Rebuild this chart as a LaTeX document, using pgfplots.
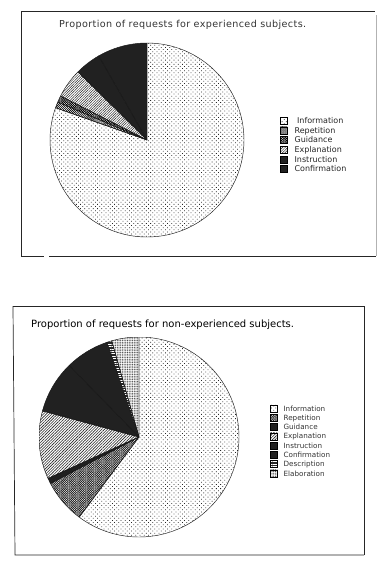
\documentclass[border=0pt]{standalone}
\usepackage{pgfplots}
\pgfplotsset{compat=1.18}
\usepackage{fontspec}
\setmainfont{DejaVu Sans}
\usetikzlibrary{patterns,patterns.meta}

\tikzset{
 pInfo/.style={pattern={Dots[distance=3pt,angle=45,radius=0.55pt]}, pattern color=black!85},
 pRep/.style={pattern={Lines[distance=1.4pt,angle=45,line width=0.6pt]}, pattern color=black},
 pGuid/.style={pattern={Hatch[distance=1.6pt,angle=45,line width=0.6pt]}, pattern color=black},
 pExpl/.style={pattern={Lines[distance=1.8pt,angle=45,line width=0.5pt]}, pattern color=black!85},
 pInst/.style={fill=black!87},
 pConf/.style={fill=black!87},
 bRep/.style={pattern={Hatch[distance=1.6pt,angle=45,line width=0.55pt]}, pattern color=black!85},
 bGuid/.style={fill=black!88},
 bExpl/.style={pattern={Lines[distance=2pt,angle=45,line width=0.6pt]}, pattern color=black!85},
 bDesc/.style={preaction={fill=black!85}, pattern={Lines[distance=2.4pt,angle=0,line width=0.8pt]}, pattern color=white},
 bElab/.style={pattern={Dots[distance=1.7pt,radius=0.6pt]}, pattern color=black!70},
}

% radius, list of value/style (clockwise from 12 o'clock): fills first, then outlines
\newcommand{\drawpie}[2]{%
 \gdef\cum{0}%
 \foreach \v/\s in {#2}{%
  \pgfmathsetmacro\aS{90-3.6*\cum}%
  \pgfmathsetmacro\aE{90-3.6*(\cum+\v)}%
  \pgfmathsetmacro\nc{\cum+\v}%
  \xdef\cum{\nc}%
  \path[\s] (axis cs:0,0) -- (axis cs:{#1*cos(\aS)},{#1*sin(\aS)}) arc[start angle=\aS, end angle=\aE, radius=#1pt] -- cycle;
 }%
 \gdef\cum{0}%
 \foreach \v/\s in {#2}{%
  \pgfmathsetmacro\aS{90-3.6*\cum}%
  \pgfmathsetmacro\aE{90-3.6*(\cum+\v)}%
  \pgfmathsetmacro\nc{\cum+\v}%
  \xdef\cum{\nc}%
  \draw[black!90, line width=0.45pt, line join=round] (axis cs:0,0) -- (axis cs:{#1*cos(\aS)},{#1*sin(\aS)}) arc[start angle=\aS, end angle=\aE, radius=#1pt] -- cycle;
 }}

\pgfplotsset{
 piebox/.style={hide axis, x=1pt, y=1pt, xmin=-100, xmax=100, ymin=-100, ymax=100, anchor=origin,
  legend cell align=left,
  legend image code/.code={\draw[##1, draw=black, line width=0.4pt] (0pt,-3pt) rectangle (7pt,4pt);},
 }
}

\begin{document}
\begin{tikzpicture}
\useasboundingbox (0pt,0pt) rectangle (380pt,-565pt);

% frames
\draw[line width=0.7pt, black!85] (21pt,-11pt) -- (375pt,-11pt);
\draw[line width=0.7pt, black!85] (21pt,-11pt) -- (21pt,-256pt) -- (44pt,-256pt);
\draw[line width=0.7pt, black!85] (49pt,-256pt) -- (376pt,-256pt);
\draw[line width=0.4pt, black!30] (376pt,-15pt) -- (376pt,-256pt);
\draw[line width=0.7pt, black!85] (13pt,-306pt) -- (364pt,-306pt) -- (364pt,-555pt);
\draw[line width=0.7pt, black!85] (13pt,-306pt) -- (15pt,-555pt) -- (364pt,-555pt);

% titles
\node[anchor=west, inner sep=0pt, text=black!80, font=\fontsize{9.6}{11}\selectfont\addfontfeatures{LetterSpace=4}] at (59pt,-25pt) {Proportion of requests for experienced subjects.};
\node[anchor=west, inner sep=0pt, text=black, font=\fontsize{10}{12}\selectfont] at (31pt,-325pt) {Proportion of requests for non-experienced subjects.};

% top pie
\begin{axis}[piebox, at={(147pt,-140pt)},
  legend style={at={(axis description cs:1.165,0.62)}, anchor=north west, draw=none, fill=none,
   font=\fontsize{8}{9}\selectfont, row sep=0pt, inner sep=0pt,
   nodes={inner sep=1pt, text height=6.2pt, text depth=1.5pt, text=black!85},
   /tikz/every odd column/.append style={column sep=6pt}}]
\pgfplotsextra{\drawpie{97}{80.4/pInfo, 1/pRep, 1.1/pGuid, 4.9/pExpl, 4.3/pInst, 8.3/pConf}}
\addlegendimage{pInfo}\addlegendentry{\hspace{2.5pt}Information}
\addlegendimage{pRep}\addlegendentry{Repetition}
\addlegendimage{pGuid}\addlegendentry{Guidance}
\addlegendimage{pExpl}\addlegendentry{Explanation}
\addlegendimage{pInst}\addlegendentry{Instruction}
\addlegendimage{pConf}\addlegendentry{Confirmation}
\end{axis}

% bottom pie
\begin{axis}[piebox, at={(139pt,-437pt)},
  legend style={at={(axis description cs:1.155,0.665)}, anchor=north west, draw=none, fill=none,
   font=\fontsize{7.2}{8}\selectfont, row sep=0pt, inner sep=0pt,
   nodes={inner sep=1pt, text height=5.8pt, text depth=1.5pt, text=black!80},
   /tikz/every odd column/.append style={column sep=5pt}}]
\pgfplotsextra{\drawpie{100}{60.2/pInfo, 7.1/bRep, 0.9/bGuid, 11/bExpl, 8.5/pInst, 7.1/pConf, 0.8/bDesc, 4.4/bElab}}
\addlegendimage{pInfo}\addlegendentry{Information}
\addlegendimage{bRep}\addlegendentry{Repetition}
\addlegendimage{bGuid}\addlegendentry{Guidance}
\addlegendimage{bExpl}\addlegendentry{Explanation}
\addlegendimage{pInst}\addlegendentry{Instruction}
\addlegendimage{pConf}\addlegendentry{Confirmation}
\addlegendimage{bDesc}\addlegendentry{Description}
\addlegendimage{bElab}\addlegendentry{Elaboration}
\end{axis}
\end{tikzpicture}
\end{document}
